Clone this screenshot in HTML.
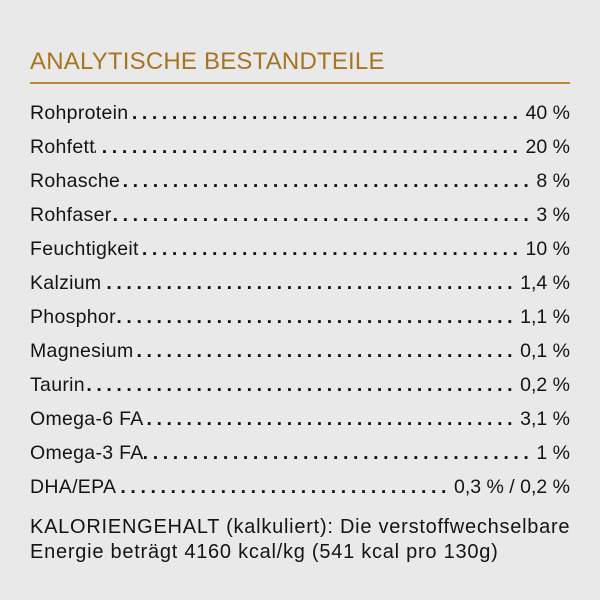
<!DOCTYPE html>
<html><head><meta charset="utf-8"><style>
body{margin:0;width:600px;height:600px;background:#e9e9e9;font-family:"Liberation Sans",sans-serif;color:#141414;position:relative;overflow:hidden}
.t{position:absolute;left:30px;top:48px;font-size:24px;color:#a8741f;letter-spacing:0.2px}
.hr{position:absolute;left:30px;top:82px;width:540px;height:2px;background:#b98a3a}
.r{position:absolute;left:30px;width:540px;height:26px;display:flex;font-size:19.5px;letter-spacing:0.3px;line-height:26px;white-space:nowrap}
.r .d{flex:1;overflow:hidden;letter-spacing:4.6px;padding-left:6px;padding-right:3px;direction:rtl;text-align:left;font-weight:bold}
.r .v{letter-spacing:0}
.k{position:absolute;left:30px;font-size:20px;letter-spacing:0.75px;white-space:nowrap}
</style></head><body>
<div class="t">ANALYTISCHE BESTANDTEILE</div>
<div class="hr"></div>
<div class="r" style="top:100px"><span>Rohprotein</span><span class="d">....................................................................</span><span class="v">40 %</span></div>
<div class="r" style="top:134px"><span>Rohfett</span><span class="d">....................................................................</span><span class="v">20 %</span></div>
<div class="r" style="top:168px"><span>Rohasche</span><span class="d">....................................................................</span><span class="v">8 %</span></div>
<div class="r" style="top:202px"><span>Rohfaser</span><span class="d">....................................................................</span><span class="v">3 %</span></div>
<div class="r" style="top:236px"><span>Feuchtigkeit</span><span class="d">....................................................................</span><span class="v">10 %</span></div>
<div class="r" style="top:270px"><span>Kalzium</span><span class="d">....................................................................</span><span class="v">1,4 %</span></div>
<div class="r" style="top:304px"><span>Phosphor</span><span class="d">....................................................................</span><span class="v">1,1 %</span></div>
<div class="r" style="top:338px"><span>Magnesium</span><span class="d">....................................................................</span><span class="v">0,1 %</span></div>
<div class="r" style="top:372px"><span>Taurin</span><span class="d">....................................................................</span><span class="v">0,2 %</span></div>
<div class="r" style="top:406px"><span>Omega-6 FA</span><span class="d">....................................................................</span><span class="v">3,1 %</span></div>
<div class="r" style="top:440px"><span>Omega-3 FA</span><span class="d">....................................................................</span><span class="v">1 %</span></div>
<div class="r" style="top:474px"><span>DHA/EPA</span><span class="d">....................................................................</span><span class="v">0,3 % / 0,2 %</span></div>
<div class="k" style="top:516px">KALORIENGEHALT (kalkuliert): Die verstoffwechselbare</div>
<div class="k" style="top:541px">Energie beträgt 4160 kcal/kg (541 kcal pro 130g)</div>
</body></html>
